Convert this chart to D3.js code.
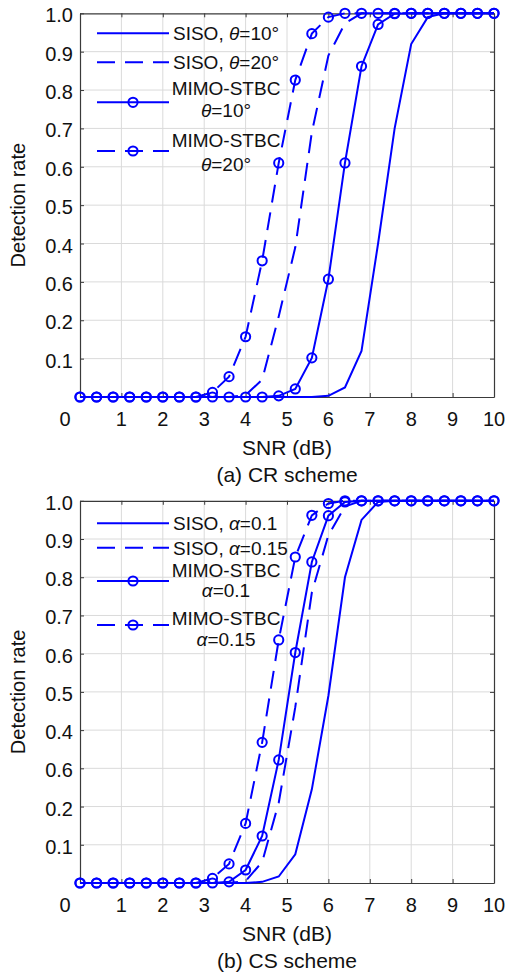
<!DOCTYPE html>
<html>
<head>
<meta charset="utf-8">
<script src="https://cdn.jsdelivr.net/npm/d3@7"></script>
<style>
  html, body { margin: 0; padding: 0; background: #fff; }
  svg { display: block; font-family: Arial, "Liberation Sans", Helvetica, sans-serif; }
</style>
</head>
<body>
<svg id="chart" width="505" height="978"></svg>
<script>
// SNR grid (dB) shared by every curve
const snr = [0, 0.4, 0.8, 1.2, 1.6, 2.0, 2.4, 2.8, 3.2, 3.6, 4.0, 4.4, 4.8, 5.2, 5.6, 6.0, 6.4, 6.8, 7.2, 7.6, 8.0, 8.4, 8.8, 9.2, 9.6, 10];

// (a) CR scheme
const crSiso10 = [0, 0, 0, 0, 0, 0, 0, 0, 0, 0, 0, 0, 0, 0, 0, 0.003, 0.025, 0.12, 0.40, 0.70, 0.92, 0.99, 1, 1, 1, 1];
const crSiso20 = [0, 0, 0, 0, 0, 0, 0, 0, 0, 0, 0.005, 0.045, 0.21, 0.39, 0.69, 0.89, 0.974, 1, 1, 1, 1, 1, 1, 1, 1, 1];
const crMimo10 = [0, 0, 0, 0, 0, 0, 0, 0, 0, 0, 0, 0, 0.003, 0.021, 0.102, 0.307, 0.61, 0.862, 0.971, 0.999, 1, 1, 1, 1, 1, 1];
const crMimo20 = [0, 0, 0, 0, 0, 0, 0, 0, 0.012, 0.053, 0.157, 0.355, 0.61, 0.826, 0.947, 0.99, 1, 1, 1, 1, 1, 1, 1, 1, 1, 1];

// (b) CS scheme
const csSiso01  = [0, 0, 0, 0, 0, 0, 0, 0, 0, 0, 0, 0.003, 0.017, 0.075, 0.245, 0.49, 0.80, 0.95, 0.997, 1, 1, 1, 1, 1, 1, 1];
const csSiso015 = [0, 0, 0, 0, 0, 0, 0, 0, 0, 0, 0.005, 0.055, 0.21, 0.46, 0.76, 0.91, 0.985, 1, 1, 1, 1, 1, 1, 1, 1, 1];
const csMimo01  = [0, 0, 0, 0, 0, 0, 0, 0, 0, 0.003, 0.034, 0.123, 0.322, 0.603, 0.84, 0.961, 0.997, 1, 1, 1, 1, 1, 1, 1, 1, 1];
const csMimo015 = [0, 0, 0, 0, 0, 0, 0, 0, 0.012, 0.05, 0.156, 0.368, 0.636, 0.853, 0.962, 0.993, 1, 1, 1, 1, 1, 1, 1, 1, 1, 1];

// Axis ticks and their printed labels
const xTicks = [0, 1, 2, 3, 4, 5, 6, 7, 8, 9, 10];
const yTicks = [0, 0.1, 0.2, 0.3, 0.4, 0.5, 0.6, 0.7, 0.8, 0.9, 1.0];
const yTickLabels = ["", "0.1", "0.2", "0.6", "0.4", "0.5", "0.6", "0.7", "0.8", "0.9", "1.0"];

const BLUE = "#0000ff";
const svg = d3.select("#chart");

const x = d3.scaleLinear().domain([0, 10]).range([80, 494]);

const panels = [
  {
    top: 13.3, bottom: 397, caption: "(a) CR scheme",
    series: [
      { values: crSiso10, dashed: false, marker: false },
      { values: crSiso20, dashed: true,  marker: false },
      { values: crMimo10, dashed: false, marker: true },
      { values: crMimo20, dashed: true,  marker: true }
    ],
    legend: [
      { y: 33.3,  lines: [["SISO, ", "θ", "=10°"]], ty: [33.3] },
      { y: 62.3,  lines: [["SISO, ", "θ", "=20°"]], ty: [62.3] },
      { y: 102.3, lines: [["MIMO-STBC"], ["", "θ", "=10°"]], ty: [88.3, 110] },
      { y: 151,   lines: [["MIMO-STBC"], ["", "θ", "=20°"]], ty: [140, 164] }
    ]
  },
  {
    top: 500.8, bottom: 883, caption: "(b) CS scheme",
    series: [
      { values: csSiso01,  dashed: false, marker: false },
      { values: csSiso015, dashed: true,  marker: false },
      { values: csMimo01,  dashed: false, marker: true },
      { values: csMimo015, dashed: true,  marker: true }
    ],
    legend: [
      { y: 523.3, lines: [["SISO, ", "α", "=0.1"]], ty: [523.3] },
      { y: 547.7, lines: [["SISO, ", "α", "=0.15"]], ty: [547.7] },
      { y: 581,   lines: [["MIMO-STBC"], ["", "α", "=0.1"]], ty: [570, 590] },
      { y: 625,   lines: [["MIMO-STBC"], ["", "α", "=0.15"]], ty: [617.7, 639.3] }
    ]
  }
];

const DASH = "18,10";

panels.forEach(p => {
  const y = d3.scaleLinear().domain([0, 1]).range([p.bottom, p.top]);
  const g = svg.append("g");
  const [x0, x1] = x.range();

  // grid
  g.append("g").selectAll("line").data(xTicks.slice(1, -1)).join("line")
    .attr("x1", d => x(d)).attr("x2", d => x(d))
    .attr("y1", p.top).attr("y2", p.bottom)
    .attr("stroke", "#dadada").attr("stroke-width", 1);
  g.append("g").selectAll("line").data(yTicks.slice(1, -1)).join("line")
    .attr("x1", x0).attr("x2", x1)
    .attr("y1", d => y(d)).attr("y2", d => y(d))
    .attr("stroke", "#dadada").attr("stroke-width", 1);

  // box axes with inward ticks
  const axB = g.append("g").attr("transform", `translate(0,${p.bottom})`)
    .call(d3.axisBottom(x).tickValues(xTicks).tickSizeInner(-4).tickSizeOuter(0).tickFormat(""));
  const axT = g.append("g").attr("transform", `translate(0,${p.top})`)
    .call(d3.axisTop(x).tickValues(xTicks).tickSizeInner(-4).tickSizeOuter(0).tickFormat(""));
  const axL = g.append("g").attr("transform", `translate(${x0},0)`)
    .call(d3.axisLeft(y).tickValues(yTicks).tickSizeInner(-4).tickSizeOuter(0).tickFormat(""));
  const axR = g.append("g").attr("transform", `translate(${x1},0)`)
    .call(d3.axisRight(y).tickValues(yTicks).tickSizeInner(-4).tickSizeOuter(0).tickFormat(""));
  [axB, axT, axL, axR].forEach(a => {
    a.selectAll(".domain").attr("stroke", "#3a3a3a").attr("stroke-width", 1.2);
    a.selectAll(".tick line").attr("stroke", "#3a3a3a");
  });

  // tick labels
  g.append("g").selectAll("text").data(xTicks).join("text")
    .attr("x", d => d === 0 ? x(d) - 15 : x(d))
    .attr("y", p.bottom + 22)
    .attr("text-anchor", "middle").attr("dominant-baseline", "central")
    .attr("font-size", 20).attr("fill", "#111")
    .text(d => d);
  g.append("g").selectAll("text").data(yTicks).join("text")
    .attr("x", x0 - 7)
    .attr("y", d => y(d) + 2)
    .attr("text-anchor", "end").attr("dominant-baseline", "central")
    .attr("font-size", 20).attr("fill", "#111")
    .text((d, i) => yTickLabels[i]);

  // axis titles & caption
  g.append("text").attr("x", 287).attr("y", p.bottom + 50)
    .attr("text-anchor", "middle").attr("dominant-baseline", "central")
    .attr("font-size", 21).attr("fill", "#111").text("SNR (dB)");
  g.append("text").attr("x", 287).attr("y", p.bottom + 77)
    .attr("text-anchor", "middle").attr("dominant-baseline", "central")
    .attr("font-size", 21).attr("fill", "#111").text(p.caption);
  g.append("text")
    .attr("transform", `translate(18,${(p.top + p.bottom) / 2}) rotate(-90)`)
    .attr("text-anchor", "middle").attr("dominant-baseline", "central")
    .attr("font-size", 20).attr("fill", "#111").text("Detection rate");

  // curves
  const line = d3.line().x((d, i) => x(snr[i])).y(d => y(d));
  p.series.forEach(s => {
    g.append("path").datum(s.values)
      .attr("d", line)
      .attr("fill", "none").attr("stroke", BLUE).attr("stroke-width", 2)
      .attr("stroke-dasharray", s.dashed ? DASH : null);
    if (s.marker) {
      g.append("g").selectAll("circle").data(s.values).join("circle")
        .attr("cx", (d, i) => x(snr[i])).attr("cy", d => y(d)).attr("r", 4.6)
        .attr("fill", "none").attr("stroke", BLUE).attr("stroke-width", 2);
    }
  });

  // legend
  const lg = g.append("g");
  p.legend.forEach((e, k) => {
    const s = p.series[k];
    lg.append("line").attr("x1", 97).attr("x2", 169).attr("y1", e.y).attr("y2", e.y)
      .attr("stroke", BLUE).attr("stroke-width", 2)
      .attr("stroke-dasharray", s.dashed ? DASH : null);
    if (s.marker) {
      lg.append("circle").attr("cx", 133).attr("cy", e.y).attr("r", 4.6)
        .attr("fill", "none").attr("stroke", BLUE).attr("stroke-width", 2);
    }
    const twoLine = e.lines.length > 1;
    e.lines.forEach((parts, j) => {
      const t = lg.append("text")
        .attr("x", twoLine ? 226 : 173)
        .attr("y", e.ty[j])
        .attr("text-anchor", twoLine ? "middle" : "start")
        .attr("dominant-baseline", "central")
        .attr("font-size", 19).attr("fill", "#111");
      parts.forEach((part, m) => {
        if (part === "") return;
        t.append("tspan").attr("font-style", m === 1 ? "italic" : null).text(part);
      });
    });
  });
});
</script>
</body>
</html>
